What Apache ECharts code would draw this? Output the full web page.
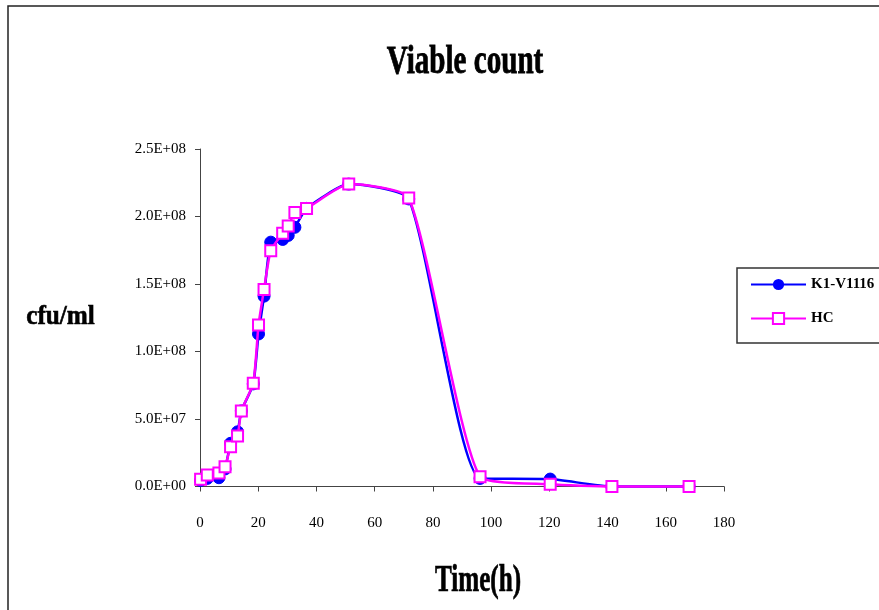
<!DOCTYPE html>
<html>
<head>
<meta charset="utf-8">
<script src="https://cdn.jsdelivr.net/npm/echarts@6/dist/echarts.min.js"></script>
<style>
html,body{margin:0;padding:0;background:#fff;}
#chart{width:879px;height:610px;}
</style>
</head>
<body>
<div id="chart"></div>
<script>
// Data
var times = [0.2, 2.5, 6.5, 8.6, 10.5, 12.9, 14.2, 18.3, 20.1, 22.0, 24.3, 28.4, 30.3, 32.6, 36.6, 51.1, 71.7, 96.2, 120.3, 141.5, 168.0];
var k1V1116 = [4.5e6, 6.0e6, 6.5e6, 1.3e7, 3.2e7, 4.05e7, 5.6e7, 7.6e7, 1.13e8, 1.41e8, 1.81e8, 1.83e8, 1.86e8, 1.92e8, 2.06e8, 2.24e8, 2.13e8, 6.0e6, 5.5e6, 0, 0];
var hc = [5.3e6, 8.5e6, 1.0e7, 1.47e7, 2.95e7, 3.74e7, 5.6e7, 7.65e7, 1.196e8, 1.46e8, 1.747e8, 1.876e8, 1.93e8, 2.03e8, 2.06e8, 2.24e8, 2.137e8, 7.3e6, 1.6e6, 0, 0];
var seriesNames = ['K1-V1116', 'HC'];
var titleText = 'Viable count';
var yTitle = 'cfu/ml';
var xTitle = 'Time(h)';

function pairs(xs, ys) {
  return xs.map(function (x, i) { return [x, ys[i]]; });
}
function sci(v) {
  var parts = Number(v).toExponential(1).split('e');
  var e = parts[1];
  var sign = e.charAt(0);
  var digits = e.slice(1);
  if (digits.length < 2) digits = '0' + digits;
  return parts[0] + 'E' + sign + digits;
}

var FONT = '"Liberation Serif", "Times New Roman", serif';
var chart = echarts.init(document.getElementById('chart'), null, {renderer: 'canvas'});
chart.setOption({
  backgroundColor: '#ffffff',
  animation: false,
  graphic: [
    {type: 'rect', shape: {x: 8, y: 6, width: 900, height: 700},
     style: {fill: 'none', stroke: '#222', lineWidth: 1.5}, silent: true},
    {type: 'rect', shape: {x: 737, y: 268, width: 200, height: 75},
     style: {fill: '#fff', stroke: '#333', lineWidth: 1.5}, z: 1, silent: true},
    {type: 'text', x: 465, y: 62, scaleX: 0.71, z: 10,
     style: {text: titleText, x: 0, y: 0, align: 'center', verticalAlign: 'middle',
             font: 'bold 41px ' + FONT, fill: '#000', stroke: '#000', lineWidth: 0.8}},
    {type: 'text', x: 60.5, y: 317, scaleX: 0.9, z: 10,
     style: {text: yTitle, x: 0, y: 0, align: 'center', verticalAlign: 'middle',
             font: 'bold 28px ' + FONT, fill: '#000', stroke: '#000', lineWidth: 0.6}},
    {type: 'text', x: 478, y: 581, scaleX: 0.68, z: 10,
     style: {text: xTitle, x: 0, y: 0, align: 'center', verticalAlign: 'middle',
             font: 'bold 37px ' + FONT, fill: '#000', stroke: '#000', lineWidth: 0.7}}
  ],
  legend: {
    orient: 'vertical',
    left: 750, top: 277,
    itemWidth: 55, itemHeight: 14, itemGap: 19,
    padding: 0,
    z: 5,
    textStyle: {fontFamily: FONT, fontWeight: 'bold', fontSize: 15, color: '#000'},
    data: seriesNames
  },
  grid: {left: 200, right: 155, top: 149, bottom: 123.5, containLabel: false},
  xAxis: {
    type: 'value', min: 0, max: 180, interval: 20,
    axisLine: {show: true, lineStyle: {color: '#444', width: 1}},
    axisTick: {show: true, inside: false, length: 5, lineStyle: {color: '#444'}},
    axisLabel: {margin: 29, fontFamily: FONT, fontSize: 15, color: '#000'},
    splitLine: {show: false}
  },
  yAxis: {
    type: 'value', min: 0, max: 2.5e8, interval: 5e7,
    axisLine: {show: true, lineStyle: {color: '#444', width: 1}},
    axisTick: {show: true, inside: false, length: 5, lineStyle: {color: '#444'}},
    axisLabel: {margin: 14, fontFamily: FONT, fontSize: 15, color: '#000', formatter: sci},
    splitLine: {show: false}
  },
  series: [
    {
      name: seriesNames[0], type: 'line', data: pairs(times, k1V1116),
      smooth: 0.18, clip: false,
      symbol: 'circle', symbolSize: 12,
      lineStyle: {color: '#0000ff', width: 2.5},
      itemStyle: {color: '#0000ff', borderColor: '#0000ff'},
      z: 2
    },
    {
      name: seriesNames[1], type: 'line', data: pairs(times, hc),
      smooth: 0.18, clip: false,
      symbol: 'rect', symbolSize: 11,
      lineStyle: {color: '#ff00ff', width: 2.5},
      itemStyle: {color: '#ffffff', borderColor: '#ff00ff', borderWidth: 2},
      z: 3
    }
  ]
});
</script>
</body>
</html>
